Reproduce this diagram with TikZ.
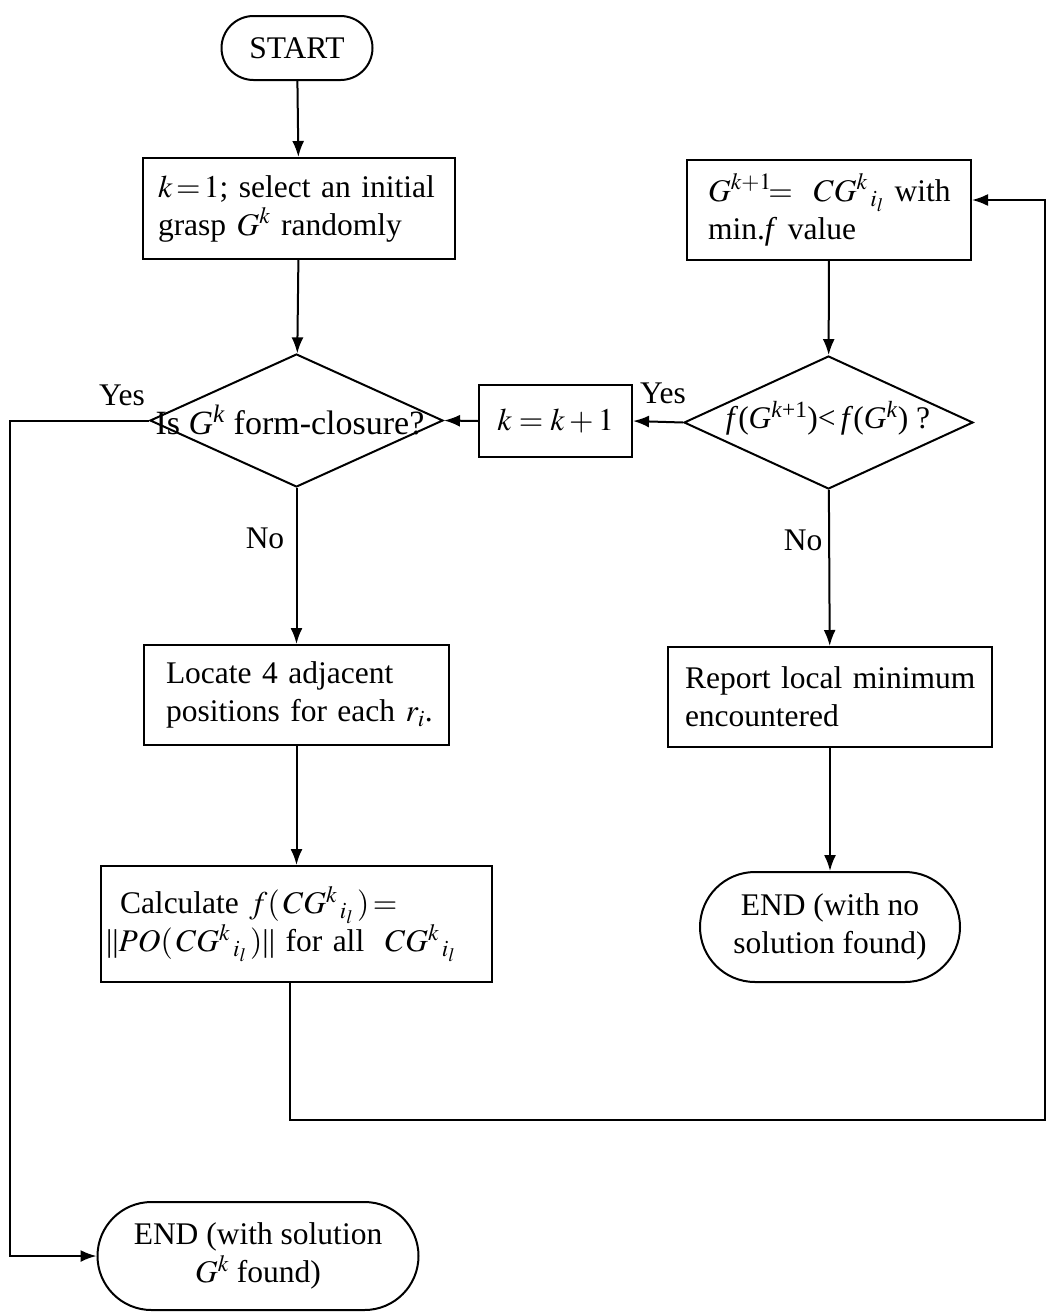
\documentclass[tikz,border=0pt]{standalone}
\usepackage{mathptmx}
\usepackage{fontspec}
\setmainfont{Liberation Serif}
\usetikzlibrary{shapes.geometric,shapes.misc,arrows.meta}
\begin{document}
\begin{tikzpicture}[x=1pt,y=-1pt, font=\fontsize{31.5}{38}\selectfont, line width=2pt,
 >={Latex[length=16pt,width=12pt]},
 box/.style={draw, rectangle, align=left, inner ysep=0pt},
 term/.style={draw, rounded rectangle, align=center, inner sep=0pt},
 dia/.style={draw, diamond, inner sep=0pt},
 lbl/.style={inner sep=0pt}]
\useasboundingbox (0,0) rectangle (1047,1312);

% terminals
\node[term, minimum width=151pt, minimum height=64pt] (start) at (297,48) {START};
\node[term, minimum width=260pt, minimum height=110pt] (end2) at (830,927) {END (with no\\solution found)};
\node[term, minimum width=321pt, minimum height=108pt] (end1) at (258,1256) {END (with solution\\$G^k$ found)};

% boxes
\node[box, minimum width=312pt, minimum height=101pt, inner xsep=15pt, text width=282pt] (init) at (299,208.5)
 {\mbox{$k\,{=}\,1$; select an initial}\\\mbox{grasp $G^k$ randomly}};
\node[box, minimum width=305pt, minimum height=100pt, inner xsep=22pt, text width=261pt] (locate) at (296.5,695)
 {\mbox{Locate 4 adjacent}\\\mbox{positions for each $r_i$.}};
\node[box, minimum width=391pt, minimum height=116pt, inner xsep=19pt, text width=353pt] (calc) at (296.5,924)
 {\mbox{Calculate $f(\,CG^{k}{}_{\,i_l}\,)\,{=}$}\\\hspace*{-14pt}\mbox{||$\mathit{PO}(\,CG^{k}{}_{\,i_l}\,)$|| for all\ \ $CG^{k}{}_{\,i_l}$}};
\node[box, minimum width=284pt, minimum height=100pt, inner xsep=21pt, text width=242pt] (next) at (829,210)
 {\mbox{$G^{k+1}\!{=}$\ \ $CG^{k}{}_{\,i_l}$\ with}\\\mbox{min.\textit{f} value}};
\node[box, minimum width=324pt, minimum height=100pt, inner xsep=17pt, text width=290pt] (report) at (830,697)
 {\mbox{Report local minimum}\\\mbox{encountered}};
\node[box, minimum width=153pt, minimum height=72pt, align=center] (inc) at (555.5,421) {$k = k + 1$};

% diamonds
\node[dia, minimum width=293pt, minimum height=133pt] (d1) at (296.5,420.5) {};
\node[lbl, font=\fontsize{34}{40}\selectfont] (d1t) at (290,420) {Is \textit{G}\textsuperscript{\textit{k}} form-closure?};
\node[dia, minimum width=289pt, minimum height=133pt] (d2) at (828.5,422.5) {};
\node[lbl] (d2t) at (828,418) {\textit{f}(\textit{G}\textsuperscript{\textit{k}+1})<\,\textit{f}(\textit{G}\textsuperscript{\textit{k}}) ?};

% labels
\node[lbl] (yes1) at (122,395) {Yes};
\node[lbl] (no1) at (265,538) {No};
\node[lbl] (yes2) at (663,393) {Yes};
\node[lbl] (no2) at (803,540) {No};

% helper coordinates
\coordinate (c1) at (10,420.5);
\coordinate (c2) at (10,1256);
\coordinate (c3) at (290,1120);
\coordinate (c4) at (1045,1120);
\coordinate (c5) at (1045,200);

% connectors
\draw[->] (start) -- (init);
\draw[->] (init) -- (d1);
\draw[->] (d1) -- (locate);
\draw[->] (locate) -- (calc);
\draw[->] (next) -- (d2);
\draw[->] (d2) -- (report);
\draw[->] (report) -- (end2);
\draw[->] (d2.west) -- (inc.east);
\draw[->] (inc.west) -- (d1.east);
\draw[->] (d1.west) -- (c1) -- (c2) -- (end1.west);
\draw[->] (calc.south -| c3) -- (c3) -- (c4) -- (c5) -- (c5 -| next.east);
\end{tikzpicture}
\end{document}
